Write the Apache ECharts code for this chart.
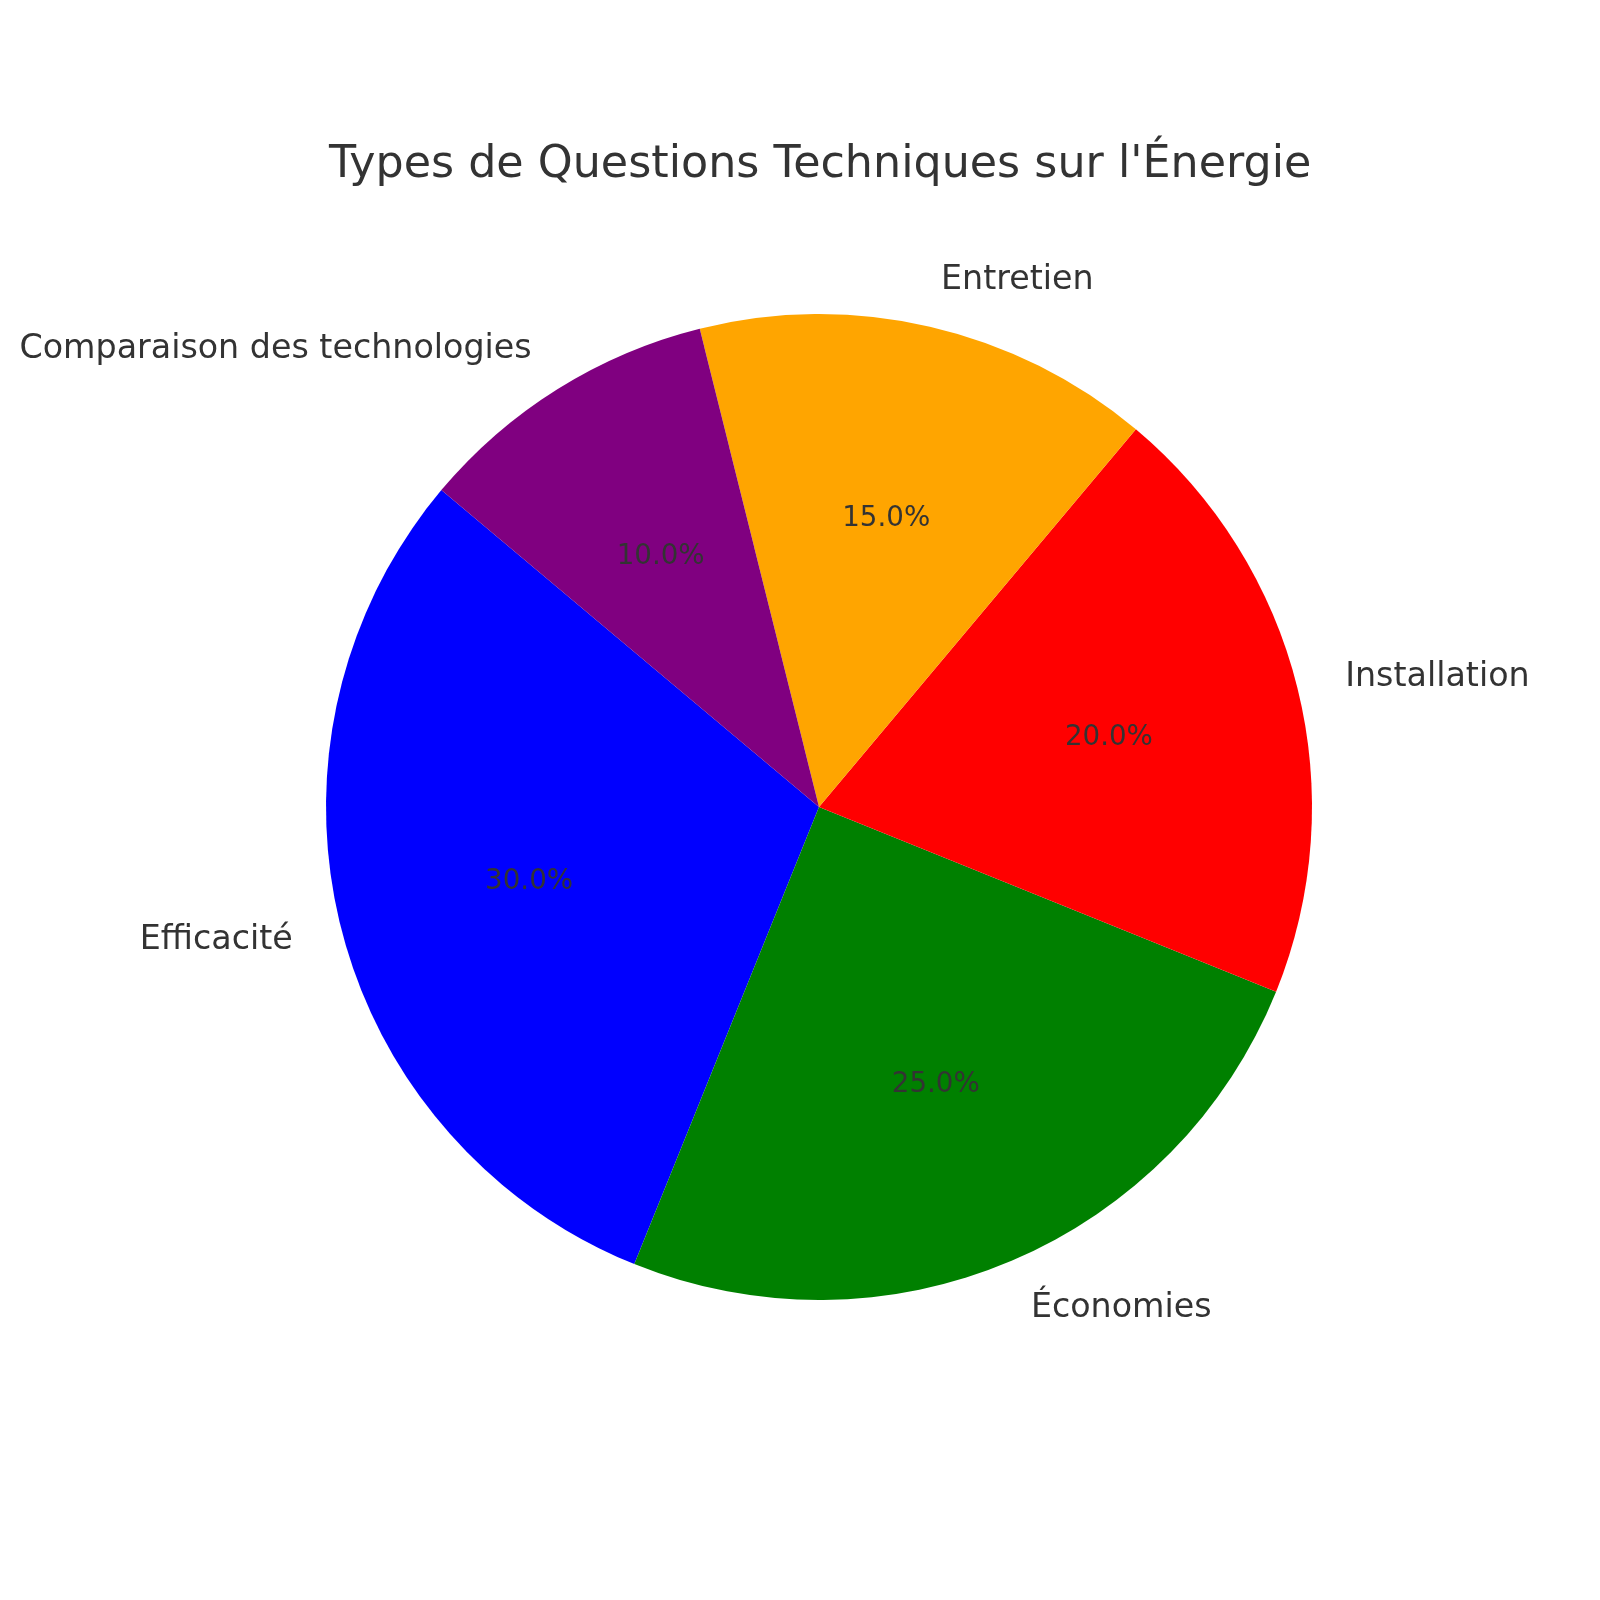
<!DOCTYPE html>
<html>
<head>
<meta charset="utf-8">
<script src="https://cdn.jsdelivr.net/npm/echarts@6/dist/echarts.min.js"></script>
<style>
  html, body { margin: 0; padding: 0; background: #fff; }
  #chart { width: 1600px; height: 1600px; }
</style>
</head>
<body>
<div id="chart"></div>
<script>
// données du camembert
const categories = ['Efficacité', 'Économies', 'Installation', 'Entretien', 'Comparaison des technologies'];
const values = [30, 25, 20, 15, 10];
const colors = ['#0000ff', '#008000', '#ff0000', '#ffa500', '#800080'];

const R = 493; // rayon du camembert en px
const center = [819, 807];

const data = categories.map((name, i) => ({
    name,
    value: values[i],
    itemStyle: { color: colors[i] }
}));

let chart = echarts.init(document.getElementById('chart'));

let option = {
    backgroundColor: '#ffffff',
    title: {
        text: "Types de Questions Techniques sur l'Énergie",
        left: 324, // centré sur le camembert
        top: 138,
        textStyle: {
            fontFamily: 'DejaVu Sans',
            fontSize: 44.4,
            fontWeight: 'normal',
            color: '#333333'
        }
    },
    series: [
        //secteurs + étiquettes extérieures à 1.1 R
        {
            type: 'pie',
            center,
            radius: [0, R],
            startAngle: 140,
            clockwise: false,
            avoidLabelOverlap: false,
            silent: true,
            data,
            label: {
                show: true,
                position: 'outside',
                alignTo: 'none',
                distanceToLabelLine: 0,
                fontFamily: 'DejaVu Sans',
                fontSize: 33.3,
                color: '#333333',
                formatter: '{b}'
            },
            labelLine: { show: false, length: R * 0.1, length2: 0 },
            labelLayout: { dy: 2 }
        },
        //pourcentages à 0.6 R (milieu d'un anneau transparent de rayon 1.2 R)
        {
            type: 'pie',
            center,
            radius: [0, R * 1.2],
            startAngle: 140,
            clockwise: false,
            silent: true,
            z: 3,
            data: categories.map((name, i) => ({
                name,
                value: values[i],
                itemStyle: { color: 'rgba(0,0,0,0)' }
            })),
            label: {
                show: true,
                position: 'inside',
                fontFamily: 'DejaVu Sans',
                fontSize: 27.7,
                color: '#333333',
                formatter: (p) => p.percent.toFixed(1) + '%'
            },
            labelLine: { show: false },
            labelLayout: { dy: 3 }
        }
    ]
};
chart.setOption(option);
</script>
</body>
</html>
